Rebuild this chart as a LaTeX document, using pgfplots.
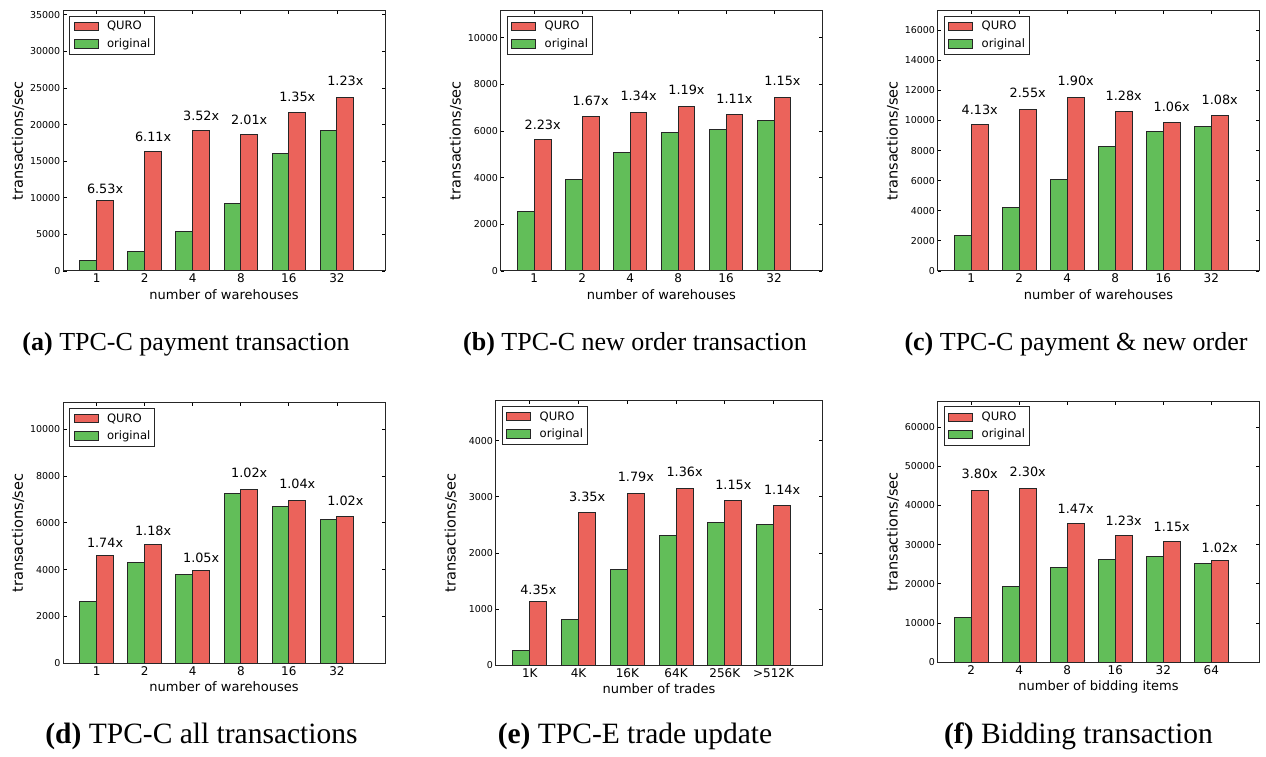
\documentclass[border=0pt]{standalone}
\usepackage{fontspec}
\setmainfont{DejaVu Sans}
\newfontfamily\capfont{Liberation Serif}
\usepackage{pgfplots}
\usepackage{pgfplotstable}
\pgfplotsset{compat=1.18}

\definecolor{quro}{RGB}{235,99,91}
\definecolor{orig}{RGB}{98,190,89}

% x: group index, q: QURO, o: original, r: speedup label
\pgfplotstableread{
x q o r
0 9603 1470 6.53x
1 16384 2660 6.11x
2 19161 5450 3.52x
3 18615 9270 2.01x
4 21664 16080 1.35x
5 23713 19265 1.23x
}\tabA
\pgfplotstableread{
x q o r
0 5657 2543 2.23x
1 6614 3943 1.67x
2 6814 5071 1.34x
3 7071 5943 1.19x
4 6714 6071 1.11x
5 7443 6457 1.15x
}\tabB
\pgfplotstableread{
x q o r
0 9715 2346 4.13x
1 10755 4205 2.55x
2 11529 6063 1.90x
3 10600 8276 1.28x
4 9847 9294 1.06x
5 10334 9604 1.08x
}\tabC
\pgfplotstableread{
x q o r
0 4587 2635 1.74x
1 5071 4288 1.18x
2 3946 3775 1.05x
3 7422 7251 1.02x
4 6966 6681 1.04x
5 6268 6154 1.02x
}\tabD
\pgfplotstableread{
x q o r
0 1138 261 4.35x
1 2714 812 3.35x
2 3052 1701 1.79x
3 3141 2305 1.36x
4 2927 2542 1.15x
5 2850 2507 1.14x
}\tabE
\pgfplotstableread{
x q o r
0 43852 11473 3.80x
1 44362 19291 2.30x
2 35354 24051 1.47x
3 32379 26175 1.23x
4 30849 26855 1.15x
5 25835 25240 1.02x
}\tabF

\pgfplotsset{
  speedup/.style={
    scale only axis, anchor=south west,
    xmin=-0.7, xmax=6.0, ymin=0,
    xtick={0,...,5},
    tick align=inside, major tick length=3.5pt,
    axis line style={line width=1pt, black!85},
    every tick/.style={black, line width=0.8pt},
    scaled y ticks=false,
    /pgf/number format/1000 sep={},
    /pgf/number format/assume math mode=true,
    yticklabel style={font=\fontsize{9.5}{10}\selectfont, anchor=east, inner sep=0pt, xshift=-2.5pt},
    xticklabel style={font=\fontsize{12}{13}\selectfont, anchor=base, inner sep=0pt, yshift=-11.7pt},
    ylabel={transactions/sec},
    ylabel style={at={([xshift=-45pt]axis description cs:0,0.5)}, anchor=center, font=\fontsize{14.5}{15}\selectfont},
    xlabel style={at={(axis description cs:0.5,0)}, anchor=base, yshift=-28.3pt, font=\fontsize{13}{14}\selectfont},
    legend cell align=left,
    legend style={at={(axis description cs:0,1)}, anchor=north west, xshift=6pt, yshift=-5pt,
      draw=black!85, line width=1pt, fill=white, font=\fontsize{11.6}{12}\selectfont,
      inner xsep=4pt, inner ysep=4.8pt, row sep=5.8pt, column sep=8.5pt,
      nodes={inner sep=0pt, text height=9pt, text depth=2.5pt}},
    legend image code/.code={\draw[##1, line width=1pt] (0pt,-4.2pt) rectangle (24pt,4.1pt);},
  },
  qbar/.style={ybar, bar width=0.35, bar shift=0.175, fill=quro, draw=black!85, line width=1pt},
  obar/.style={ybar, bar width=0.35, bar shift=-0.175, fill=orig, draw=black!85, line width=1pt},
  ratio/.style={draw=none, mark=none, forget plot, nodes near coords, point meta=explicit symbolic,
    nodes near coords style={font=\fontsize{12.8}{13}\selectfont, inner sep=0pt, yshift=3pt}},
}

\begin{document}
\begin{tikzpicture}
\useasboundingbox (0,0) rectangle (1266pt,756pt);

% (a) payment
\begin{axis}[speedup, at={(63pt,485pt)}, width=322pt, height=260.3pt,
  ymax=35570, ytick distance=5000, xticklabels={1,2,4,8,16,32},
  xlabel={number of warehouses}]
\addplot[qbar] table[x=x, y=q] {\tabA}; \addlegendentry{QURO}
\addplot[obar] table[x=x, y=o] {\tabA}; \addlegendentry{original}
\addplot[ratio] table[x expr=\thisrow{x}+0.175, y expr=1.05*\thisrow{q}, meta=r] {\tabA};
\end{axis}

% (b) new order
\begin{axis}[speedup, at={(500.7pt,485pt)}, width=321.3pt, height=260.3pt,
  ymax=11165, ytick distance=2000, xticklabels={1,2,4,8,16,32},
  xlabel={number of warehouses}]
\addplot[qbar] table[x=x, y=q] {\tabB}; \addlegendentry{QURO}
\addplot[obar] table[x=x, y=o] {\tabB}; \addlegendentry{original}
\addplot[ratio] table[x expr=\thisrow{x}+0.175, y expr=1.05*\thisrow{q}, meta=r] {\tabB};
\end{axis}

% (c) payment & new order
\begin{axis}[speedup, at={(937.7pt,485pt)}, width=321.6pt, height=260.3pt,
  ymax=17294, ytick distance=2000, xticklabels={1,2,4,8,16,32},
  xlabel={number of warehouses}]
\addplot[qbar] table[x=x, y=q] {\tabC}; \addlegendentry{QURO}
\addplot[obar] table[x=x, y=o] {\tabC}; \addlegendentry{original}
\addplot[ratio] table[x expr=\thisrow{x}+0.175, y expr=1.05*\thisrow{q}, meta=r] {\tabC};
\end{axis}

% (d) all transactions
\begin{axis}[speedup, at={(63pt,92.7pt)}, width=322pt, height=260.6pt,
  ymax=11133, ytick distance=2000, xticklabels={1,2,4,8,16,32},
  xlabel={number of warehouses}]
\addplot[qbar] table[x=x, y=q] {\tabD}; \addlegendentry{QURO}
\addplot[obar] table[x=x, y=o] {\tabD}; \addlegendentry{original}
\addplot[ratio] table[x expr=\thisrow{x}+0.175, y expr=1.05*\thisrow{q}, meta=r] {\tabD};
\end{axis}

% (e) TPC-E trade update
\begin{axis}[speedup, at={(495.7pt,90.7pt)}, width=326.6pt, height=264.6pt,
  ymax=4712, ytick distance=1000, xticklabels={1K,4K,16K,64K,256K,>512K},
  xlabel={number of trades}]
\addplot[qbar] table[x=x, y=q] {\tabE}; \addlegendentry{QURO}
\addplot[obar] table[x=x, y=o] {\tabE}; \addlegendentry{original}
\addplot[ratio] table[x expr=\thisrow{x}+0.175, y expr=1.05*\thisrow{q}, meta=r] {\tabE};
\end{axis}

% (f) bidding
\begin{axis}[speedup, at={(937.7pt,93.7pt)}, width=321.6pt, height=261pt,
  ymax=66543, ytick distance=10000, xticklabels={2,4,8,16,32,64},
  xlabel={number of bidding items}]
\addplot[qbar] table[x=x, y=q] {\tabF}; \addlegendentry{QURO}
\addplot[obar] table[x=x, y=o] {\tabF}; \addlegendentry{original}
\addplot[ratio] table[x expr=\thisrow{x}+0.175, y expr=1.05*\thisrow{q}, meta=r] {\tabF};
\end{axis}

% subfigure captions
\begin{scope}[every node/.style={anchor=base, inner sep=0pt}]
\node[font=\capfont\fontsize{26}{30}\selectfont] at (186pt,405.3pt) {\textbf{(a)} TPC-C payment transaction};
\node[font=\capfont\fontsize{26}{30}\selectfont] at (635pt,405.3pt) {\textbf{(b)} TPC-C new order transaction};
\node[font=\capfont\fontsize{26}{30}\selectfont] at (1076pt,405.3pt) {\textbf{(c)} TPC-C payment \& new order};
\node[font=\capfont\fontsize{29.5}{33}\selectfont] at (201.5pt,13pt) {\textbf{(d)} TPC-C all transactions};
\node[font=\capfont\fontsize{29.5}{33}\selectfont] at (635pt,13pt) {\textbf{(e)} TPC-E trade update};
\node[font=\capfont\fontsize{29.5}{33}\selectfont] at (1078.5pt,13pt) {\textbf{(f)} Bidding transaction};
\end{scope}
\end{tikzpicture}
\end{document}
